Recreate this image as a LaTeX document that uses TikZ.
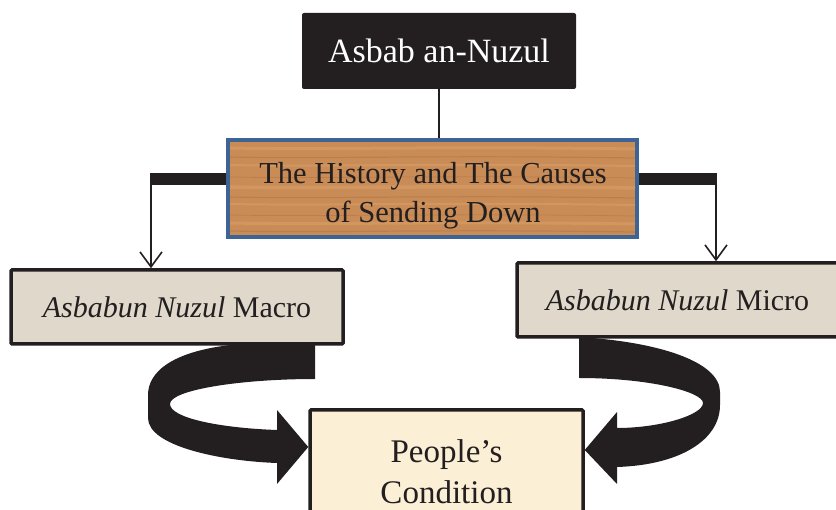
\documentclass[tikz,border=0pt]{standalone}
\usepackage{fontspec}
\setmainfont{Liberation Serif}
\usetikzlibrary{arrows.meta}
\definecolor{boxblack}{HTML}{231F20}
\definecolor{woodfill}{HTML}{C98C57}
\definecolor{woodlight}{HTML}{DBA26C}
\definecolor{wooddark}{HTML}{AE7442}
\definecolor{woodblue}{HTML}{3D6494}
\definecolor{stonefill}{HTML}{DFD8CB}
\definecolor{creamfill}{HTML}{FBEFD6}
\begin{document}
\begin{tikzpicture}[x=1pt,y=-1pt,
  titlebox/.style={fill=boxblack,rounded corners=2pt,text=white,minimum width=274pt,minimum height=76pt,font=\fontsize{34}{40}\selectfont},
  woodbox/.style={draw=woodblue,line width=4pt,fill=woodfill,minimum width=409pt,minimum height=97pt},
  woodtextstyle/.style={align=center,text=boxblack,font=\fontsize{30.5}{39}\selectfont},
  stonebox/.style={draw=boxblack,line width=3.5pt,fill=stonefill,rounded corners=1pt,text=boxblack,font=\fontsize{30}{34}\selectfont},
  creambox/.style={draw=boxblack,line width=3.5pt,fill=creamfill,rounded corners=1pt,align=center,text=boxblack,font=\fontsize{33}{41}\selectfont},
  barline/.style={line width=12pt,draw=boxblack},
  thin/.style={line width=1.6pt,draw=boxblack},
  thinarrow/.style={thin,-{Straight Barb[length=15pt,width=22pt,line width=1.6pt]}},
  bigarrow/.style={fill=boxblack}
]
\useasboundingbox (0,0) rectangle (836,510);
\clip (0,0) rectangle (836,510);

% nodes
\node[titlebox] (top) at (439,51) {Asbab an-Nuzul};
\node[woodbox] (wood) at (432.5,188.5) {};
\begin{scope}
  \clip (230,142) rectangle (635,235);
  \foreach \y/\c/\w in {148/woodlight/3,157/wooddark/1.2,165/woodlight/2,177/wooddark/0.8,187/woodlight/3.5,197/wooddark/1.2,204/woodlight/2,215/wooddark/0.8,223/woodlight/3,231/wooddark/1.2}{
    \draw[\c,line width=\w pt,opacity=0.5] (230,\y) .. controls (330,\y+2) and (430,\y-2) .. (635,\y+1);
  }
\end{scope}
\node[woodtextstyle] (woodtext) at (433,196) {The History and The Causes\\of Sending Down};
\node[stonebox,minimum width=332pt,minimum height=74pt] (macro) at (177,307) {\textit{Asbabun Nuzul} Macro};
\node[stonebox,minimum width=321pt,minimum height=74pt] (micro) at (677.5,300) {\textit{Asbabun Nuzul} Micro};
\node[creambox,minimum width=273pt,minimum height=124pt] (people) at (446.5,472) {People’s\\Condition};

% connectors
\draw[thin] (top.south) -- (top.south |- wood.north);
\coordinate (lbar) at (151,179);
\coordinate (rbar) at (716,179);
\draw[barline] (lbar -| wood.west) -- ([xshift=-1pt]lbar);
\draw[barline] (rbar -| wood.east) -- ([xshift=1pt]rbar);
\draw[thinarrow] ([yshift=-5pt]lbar) -- (lbar |- macro.north);
\draw[thinarrow] ([yshift=-5pt]rbar) -- (rbar |- micro.north);

% curved block arrows
\fill[bigarrow] (315,344) -- (240,344) .. controls (172,350) and (148,372) .. (148,395)
  -- (148,418) .. controls (148,446) and (220,461) .. (277,463)
  -- (277,484) -- (people.west |- 0,447) -- (277,410) -- (277,430)
  .. controls (220,428) and (170,418) .. (170,404)
  .. controls (170,390) and (240,379) .. (315,379) -- cycle;
\fill[bigarrow] (579,337) -- (579,378) .. controls (650,378) and (703,392) .. (703,403)
  .. controls (703,415) and (660,428) .. (617,428)
  -- (617,412) -- (people.east |- 0,450) -- (617,484) -- (617,467)
  .. controls (680,465) and (720,440) .. (720,405)
  -- (720,392) .. controls (720,362) and (660,342) .. (579,337) -- cycle;
\end{tikzpicture}
\end{document}
